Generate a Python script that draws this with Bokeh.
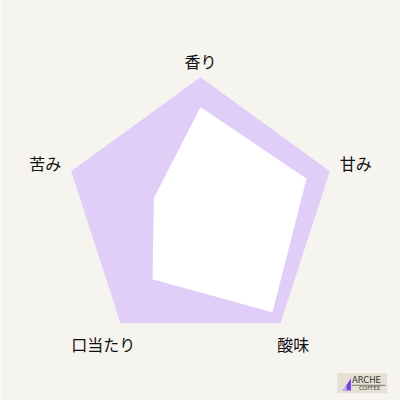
import numpy as np
from bokeh.plotting import figure
from bokeh.models import Range1d, ColumnDataSource
from bokeh.core.properties import value
from bokeh.embed import file_html
from bokeh.resources import INLINE

# ---- data ----
categories = ["香り", "甘み", "酸味", "口当たり", "苦み"]
scores = [3.9, 4.1, 4.5, 3.0, 1.8]
max_score = 5

# ---- layout (pixel-like coordinates) ----
BG = "#f6f4ef"
PURPLE = "#e0cef8"
cx, cy, R = 200.0, 212.7, 136.0
label_r = [1.12, 1.2, 1.185, 1.19, 1.2]

n = len(categories)
ang = np.pi / 2 - np.arange(n) * 2 * np.pi / n  # start at top, clockwise


def to_xy(frac):
    frac = np.asarray(frac, dtype=float)
    return cx + frac * R * np.cos(ang), cy - frac * R * np.sin(ang)


p = figure(width=400, height=400, output_backend="svg", toolbar_location=None,
           x_range=Range1d(0, 400), y_range=Range1d(400, 0),
           background_fill_color=BG, border_fill_color=BG, min_border=0)
p.axis.visible = False
p.grid.visible = False
p.outline_line_color = None

ox, oy = to_xy(np.ones(n))
p.patch(list(ox), list(oy), fill_color=PURPLE, line_color=None)

ix, iy = to_xy(np.array(scores) / max_score)
p.patch(list(ix), list(iy), fill_color="white", line_color=None)

lx, ly = to_xy(np.array(label_r))
lx = lx + np.array([0, 0, -2, -2, 0])
src = ColumnDataSource(dict(x=lx, y=ly, t=categories))
p.text(x="x", y="y", text="t", source=src, text_align="center",
       text_baseline="middle", text_font=value("Noto Sans CJK JP"),
       text_font_size="16px", text_color="#111111")

# ---- logo ----
p.quad(left=[336.7], right=[386.7], top=[372.7], bottom=[392.7],
       fill_color="#e4e0d3", line_color=None)
p.patch([342, 350.5, 350.5], [390, 378, 390], fill_color="#7b3fe4", line_color=None)
p.patch([342, 346, 346], [390, 384, 390], fill_color="#c9b6f0", line_color=None)
p.text(x=[351.5], y=[384.0], text=["ARCHE"], text_font=value("DejaVu Sans"),
       text_font_size="8.5px", text_color="#333333", text_baseline="bottom")
p.line(x=[351.5, 385], y=[384.8, 384.8], line_color="#333333", line_width=0.6)
p.text(x=[358.5], y=[390.5], text=["COFFEE"], text_font=value("DejaVu Sans"),
       text_font_size="5.5px", text_color="#333333", text_baseline="bottom")

open("out.html", "w").write(file_html(p, INLINE))
